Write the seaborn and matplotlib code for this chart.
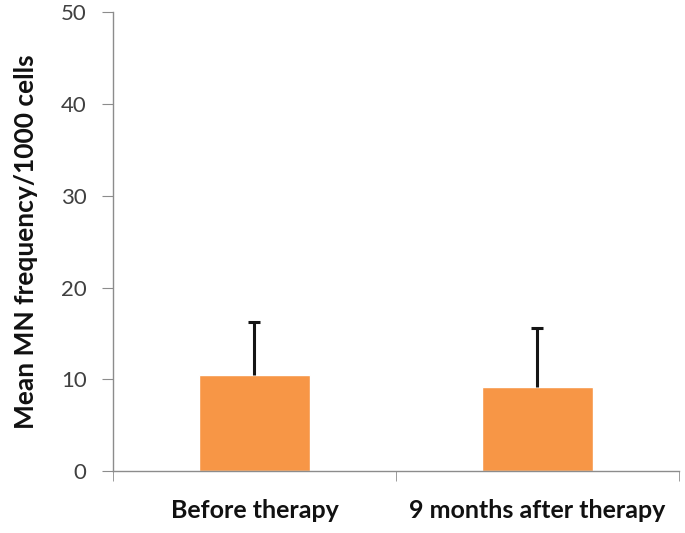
import matplotlib
matplotlib.use("Agg")
import matplotlib.pyplot as plt
import seaborn as sns
import pandas as pd

groups = ["Before therapy", "9 months after therapy"]
mean_mn = [10.5, 9.15]
sd_mn = [5.8, 6.45]

sns.set_style("white")
plt.rcParams["font.family"] = ["Lato", "DejaVu Sans"]

df = pd.DataFrame({"group": groups, "mean": mean_mn})

fig = plt.figure(figsize=(6.85, 5.33), dpi=100)
ax = fig.add_axes((0.165, 0.1158, 0.826, 0.8617))

sns.barplot(data=df, x="group", y="mean", color="#F79646", saturation=1,
            width=0.39, ax=ax)
# upper error bars only (Excel "plus" style)
eb = ax.errorbar(range(len(groups)), mean_mn, yerr=[[0] * len(sd_mn), sd_mn],
                 fmt="none", ecolor="#151515", elinewidth=2.2, capsize=4.5,
                 capthick=2.2)
eb[1][0].set_visible(False)

ax.set_xlim(-0.5, 1.5)
ax.set_ylim(0, 50)
ax.set_yticks(range(0, 51, 10))
ax.set_xlabel("")
ax.set_ylabel("Mean MN frequency/1000 cells", fontsize=19, fontweight="bold",
              color="#111111")
ax.yaxis.set_label_coords(-0.132, 0.5)

for s in ["top", "right"]:
    ax.spines[s].set_visible(False)
for s in ["left", "bottom"]:
    ax.spines[s].set_color("#8c8c8c")
    ax.spines[s].set_linewidth(1)

ax.tick_params(axis="y", direction="out", length=8, color="#8c8c8c",
               labelsize=16, labelcolor="#404040", left=True, pad=11)
ax.tick_params(axis="x", which="major", length=0, labelsize=18,
               labelcolor="#111111", pad=20)
for lab in ax.get_xticklabels():
    lab.set_fontweight("bold")
ax.set_xticks([-0.5, 0.5, 1.5], minor=True)
ax.tick_params(axis="x", which="minor", direction="out", length=7,
               color="#8c8c8c", bottom=True)

fig.savefig("out.png", dpi=100)
